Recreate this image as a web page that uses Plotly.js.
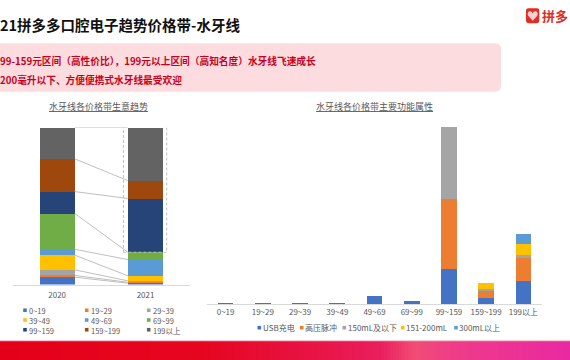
<!DOCTYPE html>
<html>
<head>
<meta charset="utf-8">
<script src="https://cdn.plot.ly/plotly-3.0.1.min.js"></script>
<style>html,body{margin:0;padding:0;background:#fff;}#chart{width:570px;height:360px;}</style>
</head>
<body>
<div id="chart"></div>
<script>
// ---------- data ----------
const years = ['2020', '2021'];
const bands = ['0~19','19~29','29~39','39~49','49~69','69~99','99~159','159~199','199以上'];
const share2020 = [4.7, 1.1, 3.6, 9.3, 3.8, 22.7, 14.0, 20.8, 20.0];
const share2021 = [0.9, 0.6, 0.9, 3.2, 10.3, 4.7, 34.2, 11.4, 33.8];
const bandColors = ['#4472C4','#ED7D31','#A5A5A5','#FFC000','#5B9BD5','#70AD47','#264478','#9E480E','#636363'];

const features = ['USB充电','高压脉冲','150mL及以下','151-200mL','300mL以上'];
const featUSB   = [1, 1, 1, 1, 8.3, 2.7, 35, 6.3, 22.7];
const featPulse = [0, 0, 0, 0, 0, 0, 70.3, 6.7, 23.7];
const feat150   = [0, 0, 0, 0, 0, 0, 71.7, 2, 2.3];
const feat200   = [0, 0, 0, 0, 0, 0, 0, 5.7, 11.7];
const feat300   = [0, 0, 0, 0, 0, 0, 0, 0, 9.3];
const featColors = ['#4472C4','#ED7D31','#A5A5A5','#FFC000','#5B9BD5'];

const titleText = '21拼多多口腔电子趋势价格带-水牙线';
const note1 = '99-159元区间（高性价比），199元以上区间（高知名度）水牙线飞速成长';
const note2 = '200毫升以下、方便便携式水牙线最受欢迎';
const logoText = '拼多';
const leftTitle = '水牙线各价格带生意趋势';
const rightTitle = '水牙线各价格带主要功能属性';

// ---------- helpers ----------
const W = 570, H = 360;
const X = p => p / W;
const Y = p => 1 - p / H;
function rr(x0, y0, x1, y1, r) {
  const f = (x, y) => X(x).toFixed(5) + ',' + Y(y).toFixed(5);
  return 'M' + f(x0 + r, y0) + ' L' + f(x1 - r, y0) + ' Q' + f(x1, y0) + ' ' + f(x1, y0 + r) +
    ' L' + f(x1, y1 - r) + ' Q' + f(x1, y1) + ' ' + f(x1 - r, y1) +
    ' L' + f(x0 + r, y1) + ' Q' + f(x0, y1) + ' ' + f(x0, y1 - r) +
    ' L' + f(x0, y0 + r) + ' Q' + f(x0, y0) + ' ' + f(x0 + r, y0) + ' Z';
}
function hexToRgb(h) { return [parseInt(h.slice(1,3),16), parseInt(h.slice(3,5),16), parseInt(h.slice(5,7),16)]; }

const traces = [];
const BW = 0.4;
// left stacked bars
bands.forEach((b, i) => {
  traces.push({
    type: 'bar', name: b, x: [0, 1], y: [share2020[i], share2021[i]], width: BW,
    marker: {color: bandColors[i], line: {width: 0}}, xaxis: 'x', yaxis: 'y',
    showlegend: false, hoverinfo: 'skip'
  });
});
// connector lines between segment tops
let c20 = 0, c21 = 0;
const cum21 = [];
bands.forEach((b, i) => {
  c20 += share2020[i]; c21 += share2021[i]; cum21.push(c21);
  traces.push({
    type: 'scatter', mode: 'lines', x: [BW / 2, 1 - BW / 2], y: [c20, c21],
    line: {color: '#BFBFBF', width: 1}, xaxis: 'x', yaxis: 'y', showlegend: false, hoverinfo: 'skip'
  });
});
// right stacked bars
const featVals = [featUSB, featPulse, feat150, feat200, feat300];
features.forEach((f, i) => {
  traces.push({
    type: 'bar', name: f, x: bands, y: featVals[i], width: 0.42,
    marker: {color: featColors[i], line: {width: 0}}, xaxis: 'x2', yaxis: 'y2',
    showlegend: false, hoverinfo: 'skip'
  });
});

const shapes = [];
const annotations = [];
const txtColor = '#595959';

// pink note box
shapes.push({type: 'path', xref: 'paper', yref: 'paper', path: rr(-10, 43.3, 501, 91.7, 6),
  fillcolor: '#FDDCE0', line: {width: 0}, layer: 'below'});
// logo
shapes.push({type: 'path', xref: 'paper', yref: 'paper', path: rr(526, 8.3, 539.3, 23.3, 2.5),
  fillcolor: '#E02E24', line: {width: 0}});
(function () {
  const cx = 532.7, cy = 16.2;
  const f = (x, y) => X(x).toFixed(5) + ',' + Y(y).toFixed(5);
  const p = 'M' + f(cx, cy + 4.6) + ' L' + f(cx - 4.8, cy - 0.6) + ' Q' + f(cx - 5.6, cy - 4.8) + ' ' + f(cx - 2.6, cy - 4.9) +
    ' Q' + f(cx - 0.6, cy - 4.9) + ' ' + f(cx, cy - 2.6) + ' Q' + f(cx + 0.6, cy - 4.9) + ' ' + f(cx + 2.6, cy - 4.9) +
    ' Q' + f(cx + 5.6, cy - 4.8) + ' ' + f(cx + 4.8, cy - 0.6) + ' Z';
  shapes.push({type: 'path', xref: 'paper', yref: 'paper', path: p, fillcolor: '#FAD0D3', line: {width: 0}});
})();
// bottom gradient band
const stops = [[0,'#E50019'],[200,'#E6051F'],[330,'#E8164A'],[380,'#EA1E5E'],[415,'#F24C76'],[455,'#EE3C88'],[570,'#EA28A2']];
function colAt(px) {
  for (let k = 0; k < stops.length - 1; k++) {
    const [a, ca] = stops[k], [b, cb] = stops[k + 1];
    if (px >= a && px <= b) {
      const t = (px - a) / (b - a), A = hexToRgb(ca), B = hexToRgb(cb);
      return 'rgb(' + A.map((v, j) => Math.round(v + (B[j] - v) * t)).join(',') + ')';
    }
  }
  return stops[stops.length - 1][1];
}
for (let px = 0; px < W; px += 3) {
  shapes.push({type: 'rect', xref: 'paper', yref: 'paper', x0: X(px), x1: X(px + 3.6), y0: Y(360), y1: Y(341),
    fillcolor: colAt(px + 1.5), line: {width: 0}});
}
shapes.push({type: 'rect', xref: 'paper', yref: 'paper', x0: 0, x1: 1, y0: Y(341.2), y1: Y(340.2),
  fillcolor: '#F4B3C0', line: {width: 0}});

// dashed highlight box around 2021 top segments
shapes.push({type: 'rect', xref: 'x', yref: 'y', x0: 0.75, x1: 1.24, y0: cum21[5], y1: 102,
  line: {color: '#BFBFBF', width: 1, dash: '3px,2px'}, fillcolor: 'rgba(0,0,0,0)'});

// header texts
annotations.push({xref: 'paper', yref: 'paper', x: 0, y: Y(25), xanchor: 'left', yanchor: 'middle', xshift: -2,
  text: '<b>' + titleText + '</b>', showarrow: false, font: {size: 14.5, color: '#111111'}});
annotations.push({xref: 'paper', yref: 'paper', x: 0, y: Y(61), xanchor: 'left', yanchor: 'middle', xshift: -2,
  text: '<b>' + note1 + '</b>', showarrow: false, font: {size: 9.7, color: '#C8001E'}});
annotations.push({xref: 'paper', yref: 'paper', x: 0, y: Y(79.5), xanchor: 'left', yanchor: 'middle', xshift: -2,
  text: '<b>' + note2 + '</b>', showarrow: false, font: {size: 9.7, color: '#C8001E'}});
annotations.push({xref: 'paper', yref: 'paper', x: X(540.5), y: Y(15.5), xanchor: 'left', yanchor: 'middle',
  borderpad: 0, text: '<b>' + logoText + '</b>', showarrow: false, font: {size: 13, color: '#E02E24'}});

// chart titles
annotations.push({xref: 'paper', yref: 'paper', x: X(98.5), y: Y(106.7), xanchor: 'center', yanchor: 'middle',
  text: '<u>' + leftTitle + '</u>', showarrow: false, font: {size: 9, color: txtColor}});
annotations.push({xref: 'paper', yref: 'paper', x: X(374), y: Y(106.7), xanchor: 'center', yanchor: 'middle',
  text: '<u>' + rightTitle + '</u>', showarrow: false, font: {size: 9, color: txtColor}});

// left legend (3 columns, one multi-line text per column)
const LF = 7.5, LS = LF * 1.3;
const colMk = [25, 86.7, 148.7], colTx = [29.3, 91, 152.7], midY = 320;
const rowY = [midY - LS, midY, midY + LS];
for (let c = 0; c < 3; c++) {
  const lines = [];
  for (let r = 0; r < 3; r++) {
    const i = r * 3 + c;
    lines.push(bands[i]);
    shapes.push({type: 'rect', xref: 'paper', yref: 'paper', x0: X(colMk[c] - 1.8), x1: X(colMk[c] + 1.8),
      y0: Y(rowY[r] + 1.8), y1: Y(rowY[r] - 1.8), fillcolor: bandColors[i], line: {width: 0}});
  }
  annotations.push({xref: 'paper', yref: 'paper', x: X(colTx[c]), y: Y(midY), xanchor: 'left', yanchor: 'middle',
    xshift: -1, align: 'left', borderpad: 0, text: lines.join('<br>'), showarrow: false, font: {size: LF, color: txtColor}});
}
// right legend (one row)
const fMk = [259.3, 301.7, 344.3, 402.7, 456], fTx = [262.7, 305, 348.3, 406, 459.3], fY = 327.7;
features.forEach((f, i) => {
  shapes.push({type: 'rect', xref: 'paper', yref: 'paper', x0: X(fMk[i] - 1.8), x1: X(fMk[i] + 1.8),
    y0: Y(fY + 1.8), y1: Y(fY - 1.8), fillcolor: featColors[i], line: {width: 0}});
  annotations.push({xref: 'paper', yref: 'paper', x: X(fTx[i]), y: Y(fY), xanchor: 'left', yanchor: 'middle',
    xshift: -1, borderpad: 0, text: f, showarrow: false, font: {size: 8, color: txtColor}});
});

const layout = {
  width: W, height: H, autosize: false,
  margin: {l: 0, r: 0, t: 0, b: 0},
  paper_bgcolor: '#ffffff', plot_bgcolor: 'rgba(0,0,0,0)',
  font: {family: '"Noto Sans CJK SC", "Noto Sans", sans-serif', color: txtColor},
  barmode: 'stack', showlegend: false,
  xaxis: {domain: [X(13), X(189.7)], range: [-0.5, 1.5], tickvals: [0, 1], ticktext: years,
    showline: true, linecolor: '#D9D9D9', linewidth: 1, showgrid: false, zeroline: false, ticks: '',
    tickfont: {size: 8, color: txtColor}, ticklabelstandoff: 3, fixedrange: true},
  yaxis: {domain: [Y(284.6), Y(127.5)], range: [0, 100], visible: false, fixedrange: true},
  xaxis2: {domain: [X(207), X(542)], range: [-0.5, 8.5], type: 'category', anchor: 'y2',
    showline: true, linecolor: '#D9D9D9', linewidth: 1, showgrid: false, zeroline: false, ticks: '',
    tickfont: {size: 8, color: txtColor}, fixedrange: true},
  yaxis2: {domain: [Y(304), Y(126)], range: [0, 178], visible: false, anchor: 'x2', fixedrange: true},
  shapes: shapes, annotations: annotations
};

Plotly.newPlot('chart', traces, layout, {staticPlot: true, displayModeBar: false});
</script>
</body>
</html>
